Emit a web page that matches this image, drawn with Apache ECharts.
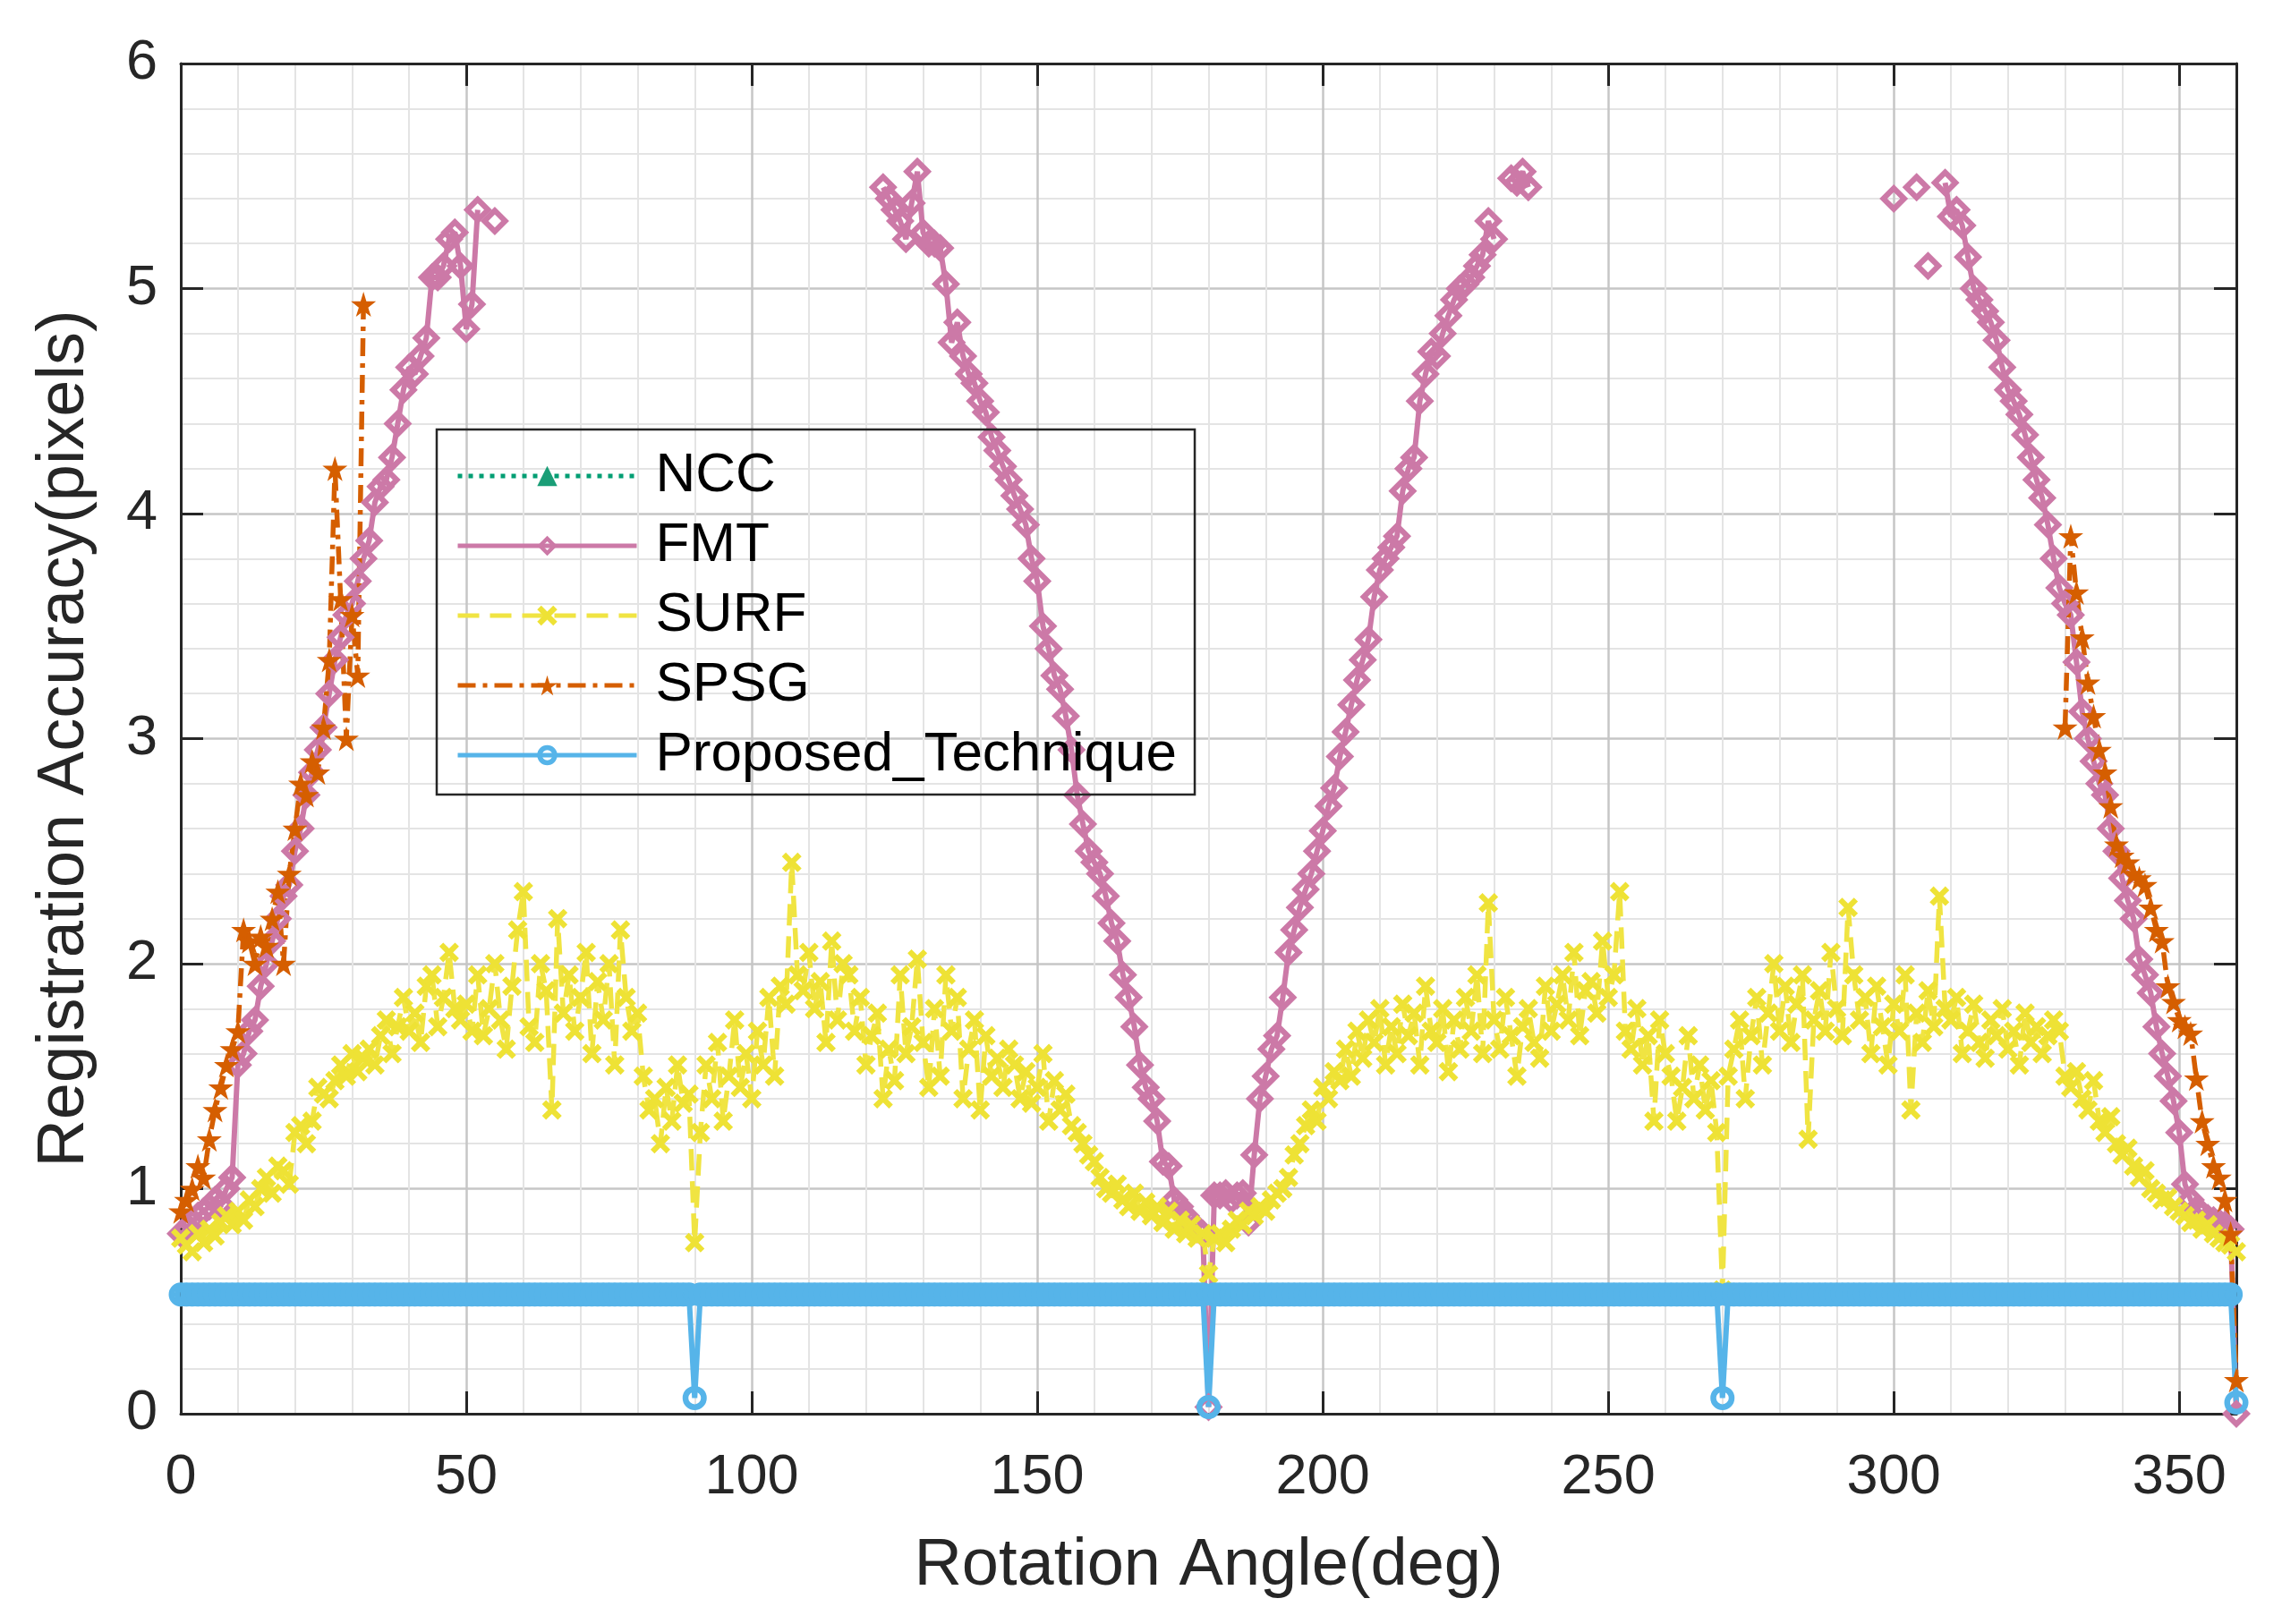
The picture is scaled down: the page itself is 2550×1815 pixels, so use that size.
<!DOCTYPE html>
<html>
<head>
<meta charset="utf-8">
<script src="https://cdn.jsdelivr.net/npm/echarts@6/dist/echarts.min.js"></script>
<style>
  html, body { margin: 0; padding: 0; background: #ffffff; }
  #chart { width: 2550px; height: 1815px; }
</style>
</head>
<body>
<div id="chart"></div>
<script>
// ---------------- DATA ----------------
const seriesNames = ['NCC', 'FMT', 'SURF', 'SPSG', 'Proposed_Technique'];
const xTickValues = [0, 50, 100, 150, 200, 250, 300, 350];
const yTickValues = [0, 1, 2, 3, 4, 5, 6];
const angleStart = 0;      // samples every 1 degree from 0 to 360
const angleCount = 361;

// NCC: not visible inside the plotted range
const nccValues = [];

// FMT: three visible pieces (start angle + values, null = no point)
const fmtAStart = 0;
const fmtA = [
  0.80,0.82,0.85,0.88,0.90,0.92,0.95,0.93,1.00,1.05,
  1.55,1.60,1.70,1.75,1.90,2.00,2.10,2.20,2.30,2.35,
  2.50,2.60,2.75,2.85,2.95,3.05,3.20,3.35,3.45,3.55,
  3.60,3.70,3.80,3.88,4.05,4.12,4.15,4.25,4.40,4.55,
  4.65,4.62,4.70,4.78,5.05,5.05,5.10,5.22,5.25,5.10,
  4.82,4.93,5.35,null,null,5.30
];
const fmtBStart = 123;
const fmtB = [
                 5.45,5.40,5.35,5.30,5.22,5.38,5.52,
  5.25,5.20,5.20,5.18,5.02,4.76,4.85,4.70,4.62,4.58,
  4.50,4.45,4.34,4.28,4.21,4.15,4.08,4.02,3.95,3.80,
  3.70,3.50,3.40,3.28,3.22,3.10,2.95,2.75,2.62,2.50,
  2.45,2.40,2.30,2.18,2.10,1.95,1.85,1.72,1.55,1.45,
  1.40,1.30,1.12,1.10,0.95,0.92,0.88,0.85,0.82,0.80,
  0.03,0.97,0.97,0.98,0.95,0.97,0.98,0.85,1.15,1.40,
  1.50,1.62,1.68,1.85,2.05,2.15,2.25,2.33,2.40,2.50,
  2.59,2.70,2.78,2.92,3.03,3.15,3.26,3.35,3.44,3.63,
  3.75,3.80,3.85,3.90,4.10,4.20,4.25,4.50,4.62,4.72,
  4.70,4.80,4.88,4.95,5.00,5.02,5.05,5.10,5.15,5.30,
  5.22,null,null,5.49,5.47,5.52,5.45
];
const fmtCStart = 300;
const fmtC = [
  5.40,null,null,null,5.45,null,5.10,null,null,5.47,
  5.32,5.35,5.28,5.14,5.00,4.95,4.90,4.85,4.77,4.65,
  4.55,4.50,4.44,4.35,4.25,4.15,4.07,3.95,3.80,3.67,
  3.60,3.55,3.34,3.12,3.00,2.90,2.80,2.75,2.60,2.50,
  2.38,2.28,2.20,2.02,1.95,1.87,1.72,1.60,1.50,1.39,
  1.25,1.02,0.95,0.91,0.89,0.87,0.86,0.85,0.84,0.82,
  0.00
];

// SURF: every degree 0..360
const surfValues = [
  0.78,0.75,0.72,0.80,0.76,0.82,0.79,0.85,0.88,0.84,
  0.90,0.86,0.95,0.92,1.00,1.05,0.98,1.10,1.08,1.02,
  1.25,1.28,1.20,1.30,1.45,1.42,1.40,1.48,1.55,1.50,
  1.60,1.52,1.58,1.62,1.55,1.68,1.75,1.60,1.72,1.85,
  1.70,1.78,1.65,1.90,1.95,1.72,1.85,2.05,1.80,1.75,
  1.82,1.70,1.95,1.68,1.80,2.00,1.75,1.62,1.90,2.15,
  2.32,1.72,1.65,2.00,1.88,1.35,2.20,1.78,1.95,1.70,
  1.85,2.05,1.60,1.92,1.75,2.00,1.55,2.15,1.85,1.70,
  1.78,1.50,1.35,1.40,1.20,1.45,1.30,1.55,1.38,1.42,
  0.76,1.25,1.55,1.40,1.65,1.30,1.50,1.75,1.45,1.60,
  1.40,1.70,1.55,1.85,1.50,1.90,1.82,2.45,1.95,1.88,
  2.05,1.80,1.92,1.65,2.10,1.75,2.00,1.95,1.70,1.85,
  1.55,1.68,1.78,1.40,1.62,1.48,1.95,1.60,1.72,2.02,
  1.65,1.45,1.80,1.50,1.95,1.70,1.85,1.40,1.62,1.75,
  1.35,1.68,1.50,1.58,1.45,1.62,1.55,1.40,1.52,1.38,
  1.45,1.60,1.30,1.48,1.35,1.42,1.28,1.25,1.20,1.15,
  1.12,1.05,1.00,0.98,1.02,0.95,0.92,0.98,0.90,0.94,
  0.88,0.92,0.85,0.90,0.82,0.86,0.80,0.84,0.78,0.80,
  0.62,0.78,0.80,0.76,0.82,0.86,0.84,0.90,0.88,0.92,
  0.90,0.95,0.98,1.00,1.05,1.15,1.20,1.28,1.35,1.30,
  1.45,1.40,1.52,1.48,1.62,1.50,1.70,1.58,1.75,1.65,
  1.80,1.55,1.72,1.60,1.82,1.68,1.78,1.55,1.90,1.70,
  1.65,1.80,1.52,1.75,1.62,1.85,1.70,1.95,1.60,2.27,
  1.75,1.62,1.85,1.68,1.50,1.72,1.80,1.65,1.58,1.90,
  1.70,1.82,1.95,1.75,2.05,1.68,1.88,1.92,1.78,2.10,
  1.85,1.95,2.32,1.70,1.62,1.80,1.55,1.68,1.30,1.75,
  1.60,1.50,1.30,1.45,1.68,1.40,1.55,1.35,1.48,1.25,
  0.55,1.50,1.62,1.75,1.40,1.68,1.85,1.55,1.78,2.00,
  1.70,1.90,1.65,1.82,1.95,1.22,1.75,1.88,1.70,2.05,
  1.80,1.68,2.25,1.95,1.75,1.85,1.60,1.90,1.72,1.55,
  1.82,1.70,1.95,1.35,1.78,1.65,1.88,1.72,2.30,1.80,
  1.75,1.85,1.60,1.70,1.82,1.65,1.58,1.75,1.68,1.80,
  1.62,1.70,1.55,1.78,1.65,1.72,1.60,1.68,1.75,1.70,
  1.50,1.45,1.52,1.40,1.35,1.48,1.30,1.25,1.32,1.20,
  1.15,1.18,1.10,1.05,1.08,1.00,0.98,0.95,0.96,0.92,
  0.90,0.88,0.85,0.86,0.82,0.84,0.80,0.78,0.76,0.75,
  0.72
];

// SPSG: two visible pieces
const spsgAStart = 0;
const spsgA = [
  0.90,0.95,1.00,1.10,1.05,1.22,1.35,1.45,1.55,1.62,
  1.70,2.15,2.10,2.00,2.12,2.08,2.20,2.32,2.00,2.40,
  2.60,2.80,2.75,2.90,2.85,3.05,3.35,4.20,3.62,3.00,
  3.55,3.28,4.93
];
const spsgBStart = 330;
const spsgB = [
  3.05,3.90,3.65,3.45,3.25,3.10,2.95,2.85,2.70,2.53,
  2.48,2.45,2.40,2.38,2.35,2.25,2.15,2.10,1.90,1.83,
  1.75,1.72,1.69,1.49,1.30,1.20,1.10,1.05,0.95,0.80,
  0.15
];

// Proposed technique: every degree 0..360
const proposedValues = [
  0.53,0.53,0.53,0.53,0.53,0.53,0.53,0.53,0.53,0.53,0.53,0.53,0.53,0.53,0.53,0.53,0.53,0.53,0.53,0.53,
  0.53,0.53,0.53,0.53,0.53,0.53,0.53,0.53,0.53,0.53,0.53,0.53,0.53,0.53,0.53,0.53,0.53,0.53,0.53,0.53,
  0.53,0.53,0.53,0.53,0.53,0.53,0.53,0.53,0.53,0.53,0.53,0.53,0.53,0.53,0.53,0.53,0.53,0.53,0.53,0.53,
  0.53,0.53,0.53,0.53,0.53,0.53,0.53,0.53,0.53,0.53,0.53,0.53,0.53,0.53,0.53,0.53,0.53,0.53,0.53,0.53,
  0.53,0.53,0.53,0.53,0.53,0.53,0.53,0.53,0.53,0.53,0.07,0.53,0.53,0.53,0.53,0.53,0.53,0.53,0.53,0.53,
  0.53,0.53,0.53,0.53,0.53,0.53,0.53,0.53,0.53,0.53,0.53,0.53,0.53,0.53,0.53,0.53,0.53,0.53,0.53,0.53,
  0.53,0.53,0.53,0.53,0.53,0.53,0.53,0.53,0.53,0.53,0.53,0.53,0.53,0.53,0.53,0.53,0.53,0.53,0.53,0.53,
  0.53,0.53,0.53,0.53,0.53,0.53,0.53,0.53,0.53,0.53,0.53,0.53,0.53,0.53,0.53,0.53,0.53,0.53,0.53,0.53,
  0.53,0.53,0.53,0.53,0.53,0.53,0.53,0.53,0.53,0.53,0.53,0.53,0.53,0.53,0.53,0.53,0.53,0.53,0.53,0.53,
  0.03,0.53,0.53,0.53,0.53,0.53,0.53,0.53,0.53,0.53,0.53,0.53,0.53,0.53,0.53,0.53,0.53,0.53,0.53,0.53,
  0.53,0.53,0.53,0.53,0.53,0.53,0.53,0.53,0.53,0.53,0.53,0.53,0.53,0.53,0.53,0.53,0.53,0.53,0.53,0.53,
  0.53,0.53,0.53,0.53,0.53,0.53,0.53,0.53,0.53,0.53,0.53,0.53,0.53,0.53,0.53,0.53,0.53,0.53,0.53,0.53,
  0.53,0.53,0.53,0.53,0.53,0.53,0.53,0.53,0.53,0.53,0.53,0.53,0.53,0.53,0.53,0.53,0.53,0.53,0.53,0.53,
  0.53,0.53,0.53,0.53,0.53,0.53,0.53,0.53,0.53,0.53,0.07,0.53,0.53,0.53,0.53,0.53,0.53,0.53,0.53,0.53,
  0.53,0.53,0.53,0.53,0.53,0.53,0.53,0.53,0.53,0.53,0.53,0.53,0.53,0.53,0.53,0.53,0.53,0.53,0.53,0.53,
  0.53,0.53,0.53,0.53,0.53,0.53,0.53,0.53,0.53,0.53,0.53,0.53,0.53,0.53,0.53,0.53,0.53,0.53,0.53,0.53,
  0.53,0.53,0.53,0.53,0.53,0.53,0.53,0.53,0.53,0.53,0.53,0.53,0.53,0.53,0.53,0.53,0.53,0.53,0.53,0.53,
  0.53,0.53,0.53,0.53,0.53,0.53,0.53,0.53,0.53,0.53,0.53,0.53,0.53,0.53,0.53,0.53,0.53,0.53,0.53,0.53,
  0.05
];

// ---------------- BUILD ----------------
function emptyFull() { const a = []; for (let i = 0; i < angleCount; i++) a.push(null); return a; }
function place(full, start, vals) { vals.forEach((v, i) => { full[start - angleStart + i] = v; }); return full; }
function toPairs(full) { return full.map((v, i) => [angleStart + i, v == null ? '-' : v]); }

const fmtFull = emptyFull(); place(fmtFull, fmtAStart, fmtA); place(fmtFull, fmtBStart, fmtB); place(fmtFull, fmtCStart, fmtC);
const spsgFull = emptyFull(); place(spsgFull, spsgAStart, spsgA); place(spsgFull, spsgBStart, spsgB);

const FONT = '"Liberation Sans", Arial, Helvetica, sans-serif';
const AXIS_COLOR = '#262626';

// open (unfilled) marker shapes, like MATLAB's hollow markers
const ringSym = 'path://M0,10 A10,10 0 1,0 20,10 A10,10 0 1,0 0,10 Z M4.8,10 A5.2,5.2 0 1,1 15.2,10 A5.2,5.2 0 1,1 4.8,10 Z';
const diamondRingSym = 'path://M10,0 L20,10 L10,20 L0,10 Z M10,5.5 L5.5,10 L10,14.5 L14.5,10 Z';
const xSym = 'path://M0,2 L2,0 L5,3 L8,0 L10,2 L7,5 L10,8 L8,10 L5,7 L2,10 L0,8 L3,5 Z';
const starSym = 'path://M50,0 L61,35 L98,35 L68,57 L79,91 L50,70 L21,91 L32,57 L2,35 L39,35 Z';

const chart = echarts.init(document.getElementById('chart'), null, { renderer: 'canvas' });

const xMin = xTickValues[0], xInterval = xTickValues[1] - xTickValues[0];
const yMin = yTickValues[0], yMax = yTickValues[yTickValues.length - 1], yInterval = yTickValues[1] - yTickValues[0];

const option = {
  animation: false,
  backgroundColor: '#ffffff',
  grid: { left: 202, right: 51, top: 71, bottom: 235, containLabel: false },
  legend: {
    data: seriesNames,
    orient: 'vertical',
    left: 488, top: 480,
    padding: [21, 20, 13, 21],
    itemGap: 16,
    itemWidth: 200,
    itemHeight: 28,
    selectedMode: false,
    backgroundColor: 'transparent',
    borderColor: AXIS_COLOR,
    borderWidth: 2.5,
    borderRadius: 0,
    lineStyle: { width: 5 },
    textStyle: { fontSize: 62, fontFamily: FONT, color: '#000000', lineHeight: 62, padding: [0, 0, 0, 16] }
  },
  xAxis: [{
    type: 'value', min: xMin, max: 360, interval: xInterval,
    name: 'Rotation Angle(deg)', nameLocation: 'middle', nameGap: 134,
    nameTextStyle: { fontSize: 74, fontFamily: FONT, color: AXIS_COLOR },
    axisLine: { show: true, onZero: false, lineStyle: { color: AXIS_COLOR, width: 3 } },
    axisTick: { show: true, inside: true, length: 25, lineStyle: { color: AXIS_COLOR, width: 3 } },
    axisLabel: { show: true, margin: 40, fontSize: 63, fontFamily: FONT, color: AXIS_COLOR, showMaxLabel: false },
    splitLine: { show: true, lineStyle: { color: '#c6c6c6', width: 2.5 } },
    minorTick: { show: false, splitNumber: 5 },
    minorSplitLine: { show: true, lineStyle: { color: '#e4e4e4', width: 2 } }
  }, {
    type: 'value', min: xMin, max: 360, interval: xInterval, position: 'top',
    axisLine: { show: true, onZero: false, lineStyle: { color: AXIS_COLOR, width: 3 } },
    axisTick: { show: true, inside: true, length: 25, lineStyle: { color: AXIS_COLOR, width: 3 } },
    axisLabel: { show: false }, splitLine: { show: false }
  }],
  yAxis: [{
    type: 'value', min: yMin, max: yMax, interval: yInterval,
    name: 'Registration Accuracy(pixels)', nameLocation: 'middle', nameGap: 92, nameRotate: 90,
    nameTextStyle: { fontSize: 74, fontFamily: FONT, color: AXIS_COLOR },
    axisLine: { show: true, onZero: false, lineStyle: { color: AXIS_COLOR, width: 3 } },
    axisTick: { show: true, inside: true, length: 25, lineStyle: { color: AXIS_COLOR, width: 3 } },
    axisLabel: { show: true, margin: 26, fontSize: 63, fontFamily: FONT, color: AXIS_COLOR },
    splitLine: { show: true, lineStyle: { color: '#c6c6c6', width: 2.5 } },
    minorTick: { show: false, splitNumber: 5 },
    minorSplitLine: { show: true, lineStyle: { color: '#e4e4e4', width: 2 } }
  }, {
    type: 'value', min: yMin, max: yMax, interval: yInterval, position: 'right',
    axisLine: { show: true, onZero: false, lineStyle: { color: AXIS_COLOR, width: 3 } },
    axisTick: { show: true, inside: true, length: 25, lineStyle: { color: AXIS_COLOR, width: 3 } },
    axisLabel: { show: false }, splitLine: { show: false }
  }],
  series: [
    {
      name: seriesNames[0], type: 'line', data: toPairs(nccValues),
      symbol: 'triangle', symbolSize: 24,
      lineStyle: { color: '#009E73', width: 5, type: [5, 7] },
      itemStyle: { color: '#1a9e77' }
    },
    {
      name: seriesNames[1], type: 'line', data: toPairs(fmtFull),
      symbol: diamondRingSym, symbolSize: 32, connectNulls: false,
      lineStyle: { color: '#CC79A7', width: 6 },
      itemStyle: { color: '#CC79A7' }
    },
    {
      name: seriesNames[2], type: 'line', data: toPairs(surfValues),
      symbol: xSym, symbolSize: 22,
      lineStyle: { color: '#F0E442', width: 5.5, type: [24, 12] },
      itemStyle: { color: '#EEE235' }
    },
    {
      name: seriesNames[3], type: 'line', data: toPairs(spsgFull),
      symbol: starSym, symbolSize: 28, connectNulls: false,
      lineStyle: { color: '#D55E00', width: 5.5, type: [20, 8, 5, 8] },
      itemStyle: { color: '#D55E00' }
    },
    {
      name: seriesNames[4], type: 'line', data: toPairs(proposedValues),
      symbol: ringSym, symbolSize: 27,
      lineStyle: { color: '#56B4E9', width: 6 },
      itemStyle: { color: '#56B4E9' }
    }
  ]
};
chart.setOption(option);
</script>
</body>
</html>
